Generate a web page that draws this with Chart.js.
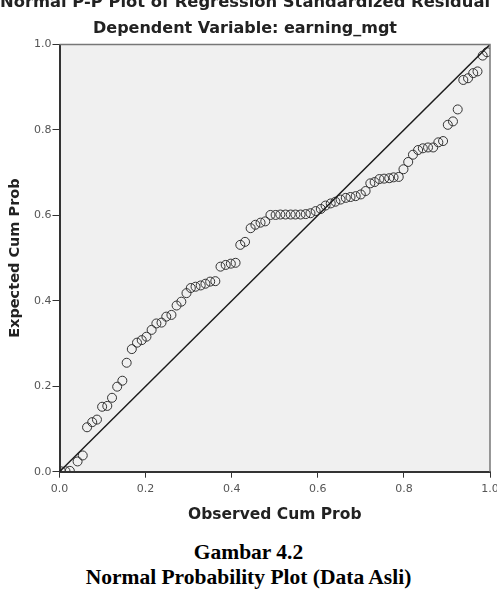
<!DOCTYPE html>
<html>
<head>
<meta charset="utf-8">
<script src="https://cdn.jsdelivr.net/npm/chart.js@4.4.1/dist/chart.umd.min.js"></script>
<style>
html, body { margin: 0; padding: 0; background: #fff; }
body { width: 497px; height: 597px; position: relative; overflow: hidden; }
#wrap { position: absolute; left: 0; top: -14px; width: 497px; height: 542px; }
.cap { position: absolute; left: 0; width: 497px; text-align: center; line-height: 25px;
  font-family: 'Liberation Serif', 'Times New Roman', serif; font-weight: bold; font-size: 21.5px; color: #000; }
</style>
</head>
<body>
<div id="wrap"><canvas id="ppChart" width="497" height="542"></canvas></div>
<div class="cap" style="top:540px">Gambar 4.2</div>
<div class="cap" style="top:565px">Normal Probability Plot (Data Asli)</div>
<script>
// P-P plot of standardized residuals

const observedCum = [
  0.003, 0.014, 0.024, 0.042, 0.054, 0.064, 0.076, 0.087, 0.099, 0.111,
  0.122, 0.134, 0.146, 0.156, 0.168, 0.180, 0.191, 0.202, 0.214, 0.225,
  0.237, 0.248, 0.260, 0.272, 0.283, 0.295, 0.305, 0.316, 0.328, 0.339,
  0.350, 0.362, 0.374, 0.386, 0.398, 0.409, 0.420, 0.431, 0.444, 0.455,
  0.467, 0.478, 0.490, 0.502, 0.513, 0.525, 0.537, 0.548, 0.560, 0.572,
  0.583, 0.595, 0.607, 0.618, 0.630, 0.641, 0.653, 0.665, 0.676, 0.688,
  0.700, 0.711, 0.722, 0.732, 0.743, 0.754, 0.766, 0.776, 0.788, 0.799,
  0.810, 0.821, 0.833, 0.844, 0.856, 0.868, 0.880, 0.891, 0.902, 0.914,
  0.925, 0.938, 0.949, 0.961, 0.971, 0.983, 0.993
];

const expectedCum = [
  0.001, 0.001, 0.002, 0.024, 0.038, 0.104, 0.116, 0.122, 0.152, 0.154,
  0.173, 0.199, 0.213, 0.255, 0.287, 0.302, 0.308, 0.316, 0.332, 0.347,
  0.349, 0.363, 0.367, 0.389, 0.398, 0.418, 0.430, 0.433, 0.436, 0.440,
  0.445, 0.446, 0.480, 0.484, 0.487, 0.489, 0.531, 0.538, 0.570, 0.578,
  0.583, 0.586, 0.601, 0.601, 0.602, 0.602, 0.602, 0.602, 0.602, 0.603,
  0.605, 0.610, 0.615, 0.623, 0.628, 0.632, 0.637, 0.641, 0.643, 0.645,
  0.649, 0.657, 0.675, 0.678, 0.685, 0.686, 0.687, 0.689, 0.690, 0.708,
  0.725, 0.742, 0.753, 0.757, 0.759, 0.759, 0.771, 0.774, 0.812, 0.820,
  0.848, 0.917, 0.921, 0.933, 0.937, 0.974, 0.982
];

const refLineX = [0, 1];
const refLineY = [0, 1];
const axisTicks = [0, 0.2, 0.4, 0.6, 0.8, 1.0];

const titleText = 'Normal P-P Plot of Regression Standardized Residual';
const subtitleText = 'Dependent Variable: earning_mgt';
const xTitle = 'Observed Cum Prob';
const yTitle = 'Expected Cum Prob';

const FONT = "'DejaVu Sans', Verdana, sans-serif";

// grey plot background + thin frame on top/right
const plotFrame = {
  id: 'plotFrame',
  beforeDraw(chart){
    const { ctx, chartArea: a } = chart;
    ctx.save();
    ctx.fillStyle = '#f0f0f0';
    ctx.fillRect(a.left, a.top, a.width, a.height);
    ctx.restore();
  },
  afterDraw(chart){
    const { ctx, chartArea: a } = chart;
    ctx.save();
    ctx.strokeStyle = '#777';
    ctx.lineWidth = 1.5;
    ctx.beginPath();
    ctx.moveTo(a.left, a.top);
    ctx.lineTo(a.right, a.top);
    ctx.lineTo(a.right, a.bottom);
    ctx.stroke();
    ctx.restore();
  }
};

const pts = observedCum.map((x, i) => ({ x, y: expectedCum[i] }));
const diag = refLineX.map((x, i) => ({ x, y: refLineY[i] }));

new Chart(document.getElementById('ppChart').getContext('2d'), {
  type: 'scatter',
  data: {
    datasets: [
      {
        type: 'line', data: diag, borderColor: '#1a1a1a', borderWidth: 1.5,
        pointRadius: 0, fill: false, tension: 0
      },
      {
        data: pts, pointStyle: 'circle', pointRadius: 4.5,
        borderColor: '#333', borderWidth: 1, backgroundColor: 'rgba(0,0,0,0)'
      }
    ]
  },
  options: {
    responsive: false,
    animation: false,
    layout: { padding: { left: 0, right: 7, top: 0, bottom: 0 } },
    plugins: {
      legend: { display: false },
      tooltip: { enabled: false },
      title: {
        display: true, text: titleText, color: '#222',
        font: { family: FONT, size: 16.5, weight: 'bold' },
        padding: { top: 7, bottom: 3 }
      },
      subtitle: {
        display: true, text: subtitleText, color: '#222',
        font: { family: FONT, size: 16, weight: 'bold' },
        padding: { top: 3.5, bottom: 6 }
      }
    },
    scales: {
      x: {
        type: 'linear', min: 0, max: 1,
        afterBuildTicks: s => { s.ticks = axisTicks.map(v => ({ value: v })); },
        afterFit: s => { s.paddingRight = 7; s.paddingLeft = 0; },
        ticks: {
          color: '#555', font: { family: FONT, size: 11 }, padding: 5,
          callback: v => Number(v).toFixed(1), maxRotation: 0
        },
        grid: { drawOnChartArea: false, drawTicks: true, tickLength: 6, tickColor: '#333' },
        border: { display: true, color: '#333', width: 2 },
        title: {
          display: true, text: xTitle, color: '#222',
          font: { family: FONT, size: 15.5, weight: 'bold' },
          padding: { top: 4.5, bottom: 4 }
        }
      },
      y: {
        type: 'linear', min: 0, max: 1,
        afterBuildTicks: s => { s.ticks = axisTicks.map(v => ({ value: v })); },
        afterFit: s => { s.width = 59.5; },
        ticks: {
          color: '#555', font: { family: FONT, size: 11 }, padding: 1,
          callback: v => Number(v).toFixed(1)
        },
        grid: { drawOnChartArea: false, drawTicks: true, tickLength: 7, tickColor: '#333' },
        border: { display: true, color: '#333', width: 2 },
        title: {
          display: true, text: yTitle, color: '#222',
          font: { family: FONT, size: 14.5, weight: 'bold' },
          padding: { top: 7, bottom: 0 }
        }
      }
    }
  },
  plugins: [plotFrame]
});
</script>
</body>
</html>
